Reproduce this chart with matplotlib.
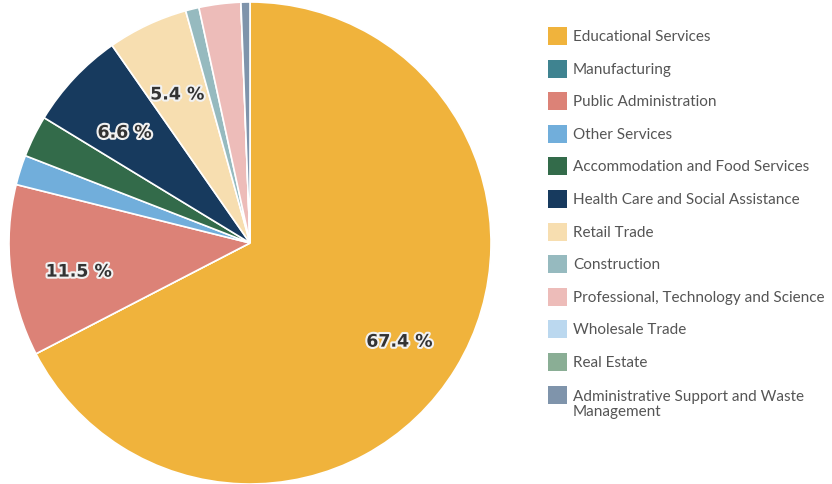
import matplotlib
matplotlib.use('Agg')
import matplotlib.pyplot as plt
import matplotlib.patheffects as pe
from matplotlib.patches import Rectangle
from matplotlib.transforms import ScaledTranslation

categories = ['Educational Services', 'Manufacturing', 'Public Administration',
              'Other Services', 'Accommodation and Food Services',
              'Health Care and Social Assistance', 'Retail Trade', 'Construction',
              'Professional, Technology and Science', 'Wholesale Trade',
              'Real Estate', 'Administrative Support and Waste\nManagement']
shares = [67.4, 0.0, 11.5, 2.0, 2.8, 6.6, 5.4, 0.9, 2.8, 0.0, 0.0, 0.6]
colors = ['#F0B33C', '#3F8390', '#DC8277', '#71AEDB', '#336B4A', '#173A5E',
          '#F7DEB0', '#96BABF', '#EDBCB9', '#BBD8EF', '#8AAE95', '#7F94AB']

W, H = 832, 485
fig = plt.figure(figsize=(W / 100, H / 100), dpi=100)

# pie centre (250, 241 from bottom), radius 241 px
cx, cy, r = 250, 241, 241
ax = fig.add_axes([(cx - r) / W, (cy - r) / H, 2 * r / W, 2 * r / H])

wedges, texts, autotexts = ax.pie(
    shares, colors=colors, startangle=90, counterclock=False,
    autopct='%.1f', pctdistance=0.72,
    wedgeprops=dict(edgecolor='white', linewidth=1.2))
shift = ax.transData + ScaledTranslation(0.01, -0.085, fig.dpi_scale_trans)
for t, v in zip(autotexts, shares):
    t.set_text(f'{v:.1f} %' if v >= 5 else '')
    t.set_fontsize(12.5)
    t.set_fontweight('bold')
    t.set_color('#333333')
    t.set_family('DejaVu Sans')
    t.set_transform(shift)
    t.set_path_effects([pe.withStroke(linewidth=3, foreground='#f2f2f2')])
ax.set_xlim(-1, 1)
ax.set_ylim(-1, 1)
ax.set_aspect('equal')
ax.axis('off')

# legend
y0 = 37
step = 32.6
for i, (lab, col) in enumerate(zip(categories, colors)):
    y = H - (y0 + i * step)
    fig.patches.append(Rectangle((548 / W, (y - 9) / H), 19 / W, 18 / H,
                                 transform=fig.transFigure, facecolor=col,
                                 edgecolor='none'))
    if '\n' in lab:
        fig.text(573 / W, (y + 6) / H, lab, fontsize=11, color='#555555',
                 family='Lato', va='top', linespacing=1.1)
    else:
        fig.text(573 / W, y / H, lab, fontsize=11, color='#555555',
                 family='Lato', va='center')

fig.savefig('out.png', dpi=100)
